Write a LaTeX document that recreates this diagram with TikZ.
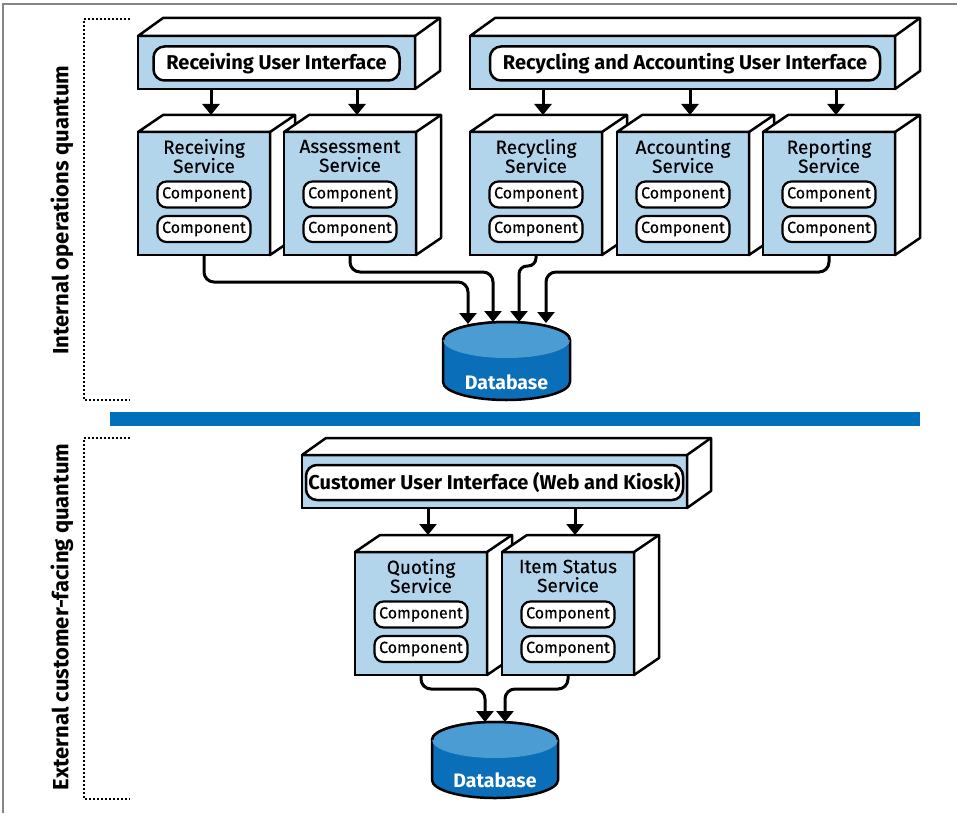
\documentclass[tikz,border=0pt]{standalone}
\usepackage{fontspec}
\setmainfont{Fira Sans}
\newfontfamily\medfont{Fira Sans}[FakeBold=0.35]
\usetikzlibrary{arrows.meta}
\definecolor{svcblue}{HTML}{B3D5EC}
\definecolor{dblight}{HTML}{4B9CD3}
\definecolor{dbdark}{HTML}{0A6EB8}
\definecolor{barblue}{HTML}{0070BB}
\definecolor{framegray}{HTML}{858585}

\newcommand\mkfaces[3]{%
  \draw[face] (#1.north west) -- ([shift={(#2,-#3)}]#1.north west) -- ([shift={(#2,-#3)}]#1.north east) -- ([shift={(#2,-#3)}]#1.south east) -- (#1.south east) -- (#1.north east) -- cycle;
  \draw[face] (#1.north east) -- ([shift={(#2,-#3)}]#1.north east);
}
\newcommand\mksvc[4]{%
  \node[svcfront, anchor=north west] (#1) at (#2,#3) {};
  \mkfaces{#1}{25}{17}
  \node[svctitle] (#1-t) at ([yshift=-24pt]#1.north) {#4};
  \node[comp] (#1-c1) at ([yshift=-62.5pt]#1.north) {Component};
  \node[comp] (#1-c2) at ([yshift=-97pt]#1.north) {Component};
  \coordinate (#1-in) at ([shift={(7,-17)}]#1.north);
}
\newcommand\mkdb[5]{% name, cx, top-ellipse cy, rx, body height
  \draw[dbline, fill=dbdark] (#2-#4,#3) arc[start angle=180, end angle=360, x radius=#4, y radius=18] -- (#2+#4,#3+#5) arc[start angle=0, end angle=180, x radius=#4, y radius=18] -- cycle;
  \fill[dblight] (#2,#3) ellipse[x radius=#4, y radius=18];
  \draw[dbline] (#2-#4,#3) arc[start angle=180, end angle=360, x radius=#4, y radius=18];
  \node[dbtext] (#1) at (#2,#3+#5) {Database};
}

\begin{document}
\begin{tikzpicture}[x=1pt, y=-1pt,
  face/.style={draw=black, fill=white, line width=2.5pt, line join=round},
  svcfront/.style={draw=black, fill=svcblue, line width=2.5pt, minimum width=132pt, minimum height=123pt, inner sep=0pt, outer sep=0pt},
  uifront/.style={draw=black, fill=svcblue, line width=2.5pt, minimum height=53pt, inner sep=0pt, outer sep=0pt},
  pill/.style={draw=black, fill=white, line width=2.5pt, rounded corners=11pt, minimum height=34pt, inner sep=0pt, font=\bfseries\fontsize{20}{20}\selectfont},
  comp/.style={draw=black, fill=white, line width=2.2pt, rounded corners=9pt, minimum width=93pt, minimum height=26pt, inner sep=0pt, font=\medfont\fontsize{16}{16}\selectfont},
  svctitle/.style={align=center, inner sep=0pt, font=\medfont\fontsize{19}{19}\selectfont},
  arr/.style={line width=3pt, -{Triangle[width=17pt,length=11pt]}},
  conn/.style={line width=3pt, rounded corners=10pt, -{Triangle[width=17pt,length=11pt]}},
  dbline/.style={draw=black, line width=2.5pt},
  dbtext/.style={text=white, font=\bfseries\fontsize{19.5}{19.5}\selectfont, inner sep=0pt},
  dotline/.style={line width=1.6pt, dash pattern=on 1.6pt off 2.4pt},
  side/.style={rotate=90, font=\bfseries\fontsize{22}{22}\selectfont, inner sep=0pt}
]
\useasboundingbox (0,0) rectangle (957,813);
\draw[framegray, line width=1.5pt] (3,813) -- (3,4) -- (957,4);

% ---------- upper quantum ----------
\draw[dotline] (130,19) -- (84,19) -- (84,400) -- (130,400);
\node[side] (lab1) at (62,210) {Internal operations quantum};

\node[uifront, minimum width=277pt, anchor=north west] (rui) at (138,36) {};
\mkfaces{rui}{25}{18}
\node[pill, minimum width=246pt] (rui-t) at ([yshift=-1pt]rui.center) {Receiving User Interface};

\node[uifront, minimum width=425pt, anchor=north west] (aui) at (470,36) {};
\mkfaces{aui}{25}{18}
\node[pill, minimum width=390pt] (aui-t) at ([xshift=2.5pt,yshift=-1pt]aui.center) {Recycling and Accounting User Interface};

\mksvc{rs}{138}{132}{Receiving\\Service}
\mksvc{as}{284}{132}{Assessment\\Service}
\mksvc{rc}{470}{132}{Recycling\\Service}
\mksvc{ac}{617}{132}{Accounting\\Service}
\mksvc{rp}{763}{132}{Reporting\\Service}

\draw[arr] (rs-in |- rui.south) -- (rs-in);
\draw[arr] (as-in |- rui.south) -- (as-in);
\draw[arr] (rc-in |- aui.south) -- (rc-in);
\draw[arr] (ac-in |- aui.south) -- (ac-in);
\draw[arr] (rp-in |- aui.south) -- (rp-in);

\mkdb{db1}{506.5}{340}{63.5}{42}
\coordinate (db1a) at (468,324);
\coordinate (db1b) at (493,322);
\coordinate (db1c) at (519,322);
\coordinate (db1d) at (546,323);

\draw[conn] (rs.south) -- ++(0,27) -| (db1a);
\draw[conn] (as.south) -- ++(0,17) -| (db1b);
\draw[conn, rounded corners=8pt] (rc.south) -- ++(0,11) -| (db1c);
\draw[conn] (rp.south) -- ++(0,17) -| (db1d);

% ---------- separator ----------
\fill[barblue] (110,412) rectangle (920,426);

% ---------- lower quantum ----------
\draw[dotline] (130,438) -- (84,438) -- (84,799) -- (130,799);
\node[side] (lab2) at (62,617) {External customer-facing quantum};

\node[uifront, minimum width=385pt, anchor=north west] (cui) at (302,455) {};
\mkfaces{cui}{24}{17}
\node[pill, minimum width=377pt, minimum height=35pt] (cui-t) at ([yshift=-1pt]cui.center) {Customer User Interface (Web and Kiosk)};

\mksvc{qs}{355}{552}{Quoting\\Service}
\mksvc{is}{502}{552}{Item Status\\Service}

\draw[arr] (qs-in |- cui.south) -- (qs-in);
\draw[arr] (is-in |- cui.south) -- (is-in);

\mkdb{db2}{495}{740}{63}{40}
\coordinate (db2a) at (485,722);
\coordinate (db2b) at (505,722);

\draw[conn] (qs.south) -- ++(0,14) -| (db2a);
\draw[conn] (is.south) -- ++(0,14) -| (db2b);
\end{tikzpicture}
\end{document}
